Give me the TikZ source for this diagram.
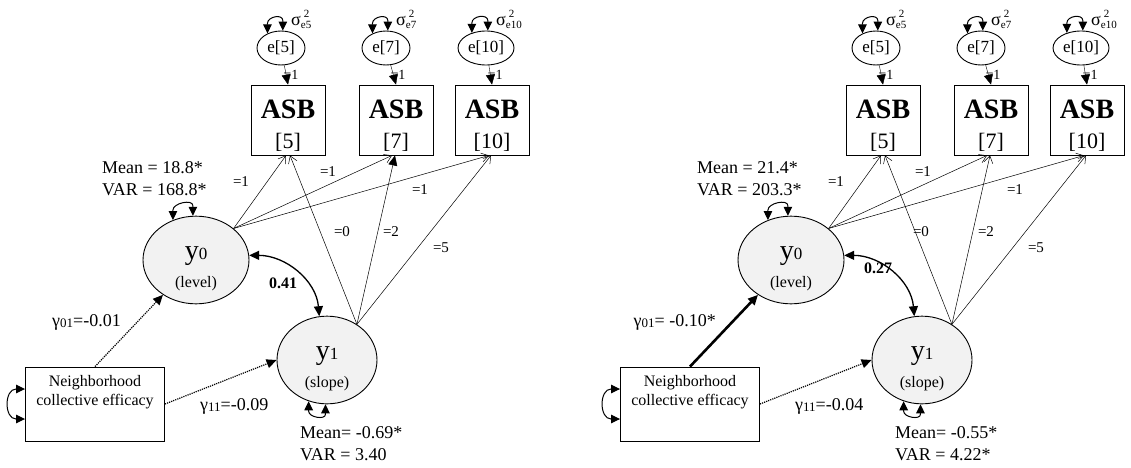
\documentclass[tikz,border=0pt]{standalone}
\usepackage{fontspec}
\setmainfont{Liberation Serif}
\usetikzlibrary{%
  calc,arrows.meta,shapes}
\tikzset {>=Stealth}
\newcommand\fsz[1]{\fontsize{#1}{#1}\selectfont}
\newcommand\gsub[1]{\raisebox{-1.5pt}{\fsz{13}#1}}
\newcommand\sig[1]{\makebox[0pt][l]{\hspace{3pt}\raisebox{8pt}{\fsz{11}2}}\raisebox{-3pt}{\fsz{11}e#1}}
\tikzset{
  latent/.style={draw, ellipse, fill=gray!10, line width=0.9pt, inner sep=0pt,
    minimum width=106pt, minimum height=84pt, align=center,
    font=\fontsize{16}{28}\selectfont, text height=58pt, text depth=4pt},
  errterm/.style={draw, ellipse, line width=0.9pt, inner sep=0pt,
    minimum width=48pt, minimum height=34pt, font=\fsz{17}},
  asb/.style={draw, line width=0.9pt, inner sep=0pt, minimum width=74pt,
    minimum height=70pt, align=center, font=\fontsize{22}{30}\selectfont,
    text height=60pt, text depth=4pt},
  covar/.style={draw, line width=0.9pt, inner sep=0pt, minimum width=139pt,
    minimum height=74pt, align=center, font=\fontsize{16}{19}\selectfont,
    text height=30pt, text depth=28pt},
  load/.style={-{Straight Barb[length=7pt,width=9pt]}, line width=0.5pt},
  tip/.style={-{Triangle[length=10pt,width=9pt]}},
  varloop/.style={{Triangle[length=9pt,width=8.5pt]}-{Triangle[length=9pt,width=8.5pt]},
    line width=1pt},
  lbl/.style={font=\fsz{15}, inner sep=0pt},
  stat/.style={font=\fontsize{18}{22}\selectfont, align=left, inner sep=0pt},
  zerolbl/.style={}, covlbl/.style={}, slopetip/.style={load},
}

% one panel: #1,#2 level mean/var, #3 covariance, #4 gamma01, #5 its line,
% #6 gamma11, #7,#8 slope mean/var
\newcommand\growthpanel[8]{%
  \node[latent] (y0) at (196,207) {{\fsz{28}y}{\fsz{17}0}\\(level)};
  \node[latent, minimum width=100pt] (y1) at (327,107) {{\fsz{28}y}{\fsz{17}1}\\(slope)};
  \node[covar] (nb) at (95,63) {Neighborhood\\collective efficacy};
  \node[errterm] (e5) at (281,419) {e[5]};
  \node[errterm] (e7) at (386,419) {e[7]};
  \node[errterm, minimum width=56pt] (e10) at (486,419) {e[10]};
  \node[asb] (a5) at (288,347) {{\fsz{28}\bfseries ASB}\\{[5]}};
  \node[asb] (a7) at (396,347) {{\fsz{28}\bfseries ASB}\\{[7]}};
  \node[asb] (a10) at (492,347) {{\fsz{28}\bfseries ASB}\\{[10]}};
  \foreach \i in {5,7,10} {
    \draw[varloop] (e\i.133) -- ++(0,10) .. controls +(0,7) and +(0,7)
      .. ([yshift=10pt]e\i.84) -- (e\i.84);
    \node[anchor=base west, inner sep=0pt, font=\fsz{18}] (s\i)
      at ([xshift=10pt,yshift=5pt]e\i.north) {σ\sig{\i}};
    \draw[tip] (e\i) -- (a\i.north)
      node[lbl, font=\fsz{14}, midway, right, xshift=-3pt] {=1};
  }
  % loadings
  \draw[load] (y0.40) -- ([xshift=-2pt]a5.south);
  \draw[load] (y0.40) -- ([xshift=-4pt]a7.south);
  \draw[load] (y0.40) -- ([xshift=-3pt]a10.south);
  \draw[load] (y1.50) -- ([xshift=2pt]a5.south);
  \draw[slopetip] (y1.50) -- ([xshift=-1pt]a7.south);
  \draw[load] (y1.50) -- ([xshift=-1pt]a10.south);
  \node[lbl] (l1) at (241,285) {=1};
  \node[lbl] (l2) at (328,295) {=1};
  \node[lbl] (l3) at (420,277) {=1};
  \node[lbl, zerolbl] (l4) at (342,235) {=0};
  \node[lbl] (l5) at (391,235) {=2};
  \node[lbl] (l6) at (441,219) {=5};
  % variances and means
  \draw[varloop] (y0.120) -- ++(0,10) .. controls +(0,7) and +(0,7)
    .. ([yshift=10pt]y0.94) -- (y0.94);
  \draw[varloop] (y1.246) -- ++(0,-10) .. controls +(0,-6) and +(0,-6)
    .. ([yshift=-10pt]y1.268) -- (y1.268);
  \draw[varloop] ([yshift=15pt]nb.west) -- ++(-9,0) .. controls +(-12,0) and +(-12,0)
    .. ([xshift=-9pt,yshift=-15pt]nb.west) -- ([yshift=-15pt]nb.west);
  \node[stat, anchor=base west] (m0) at (102,272) {Mean = #1\\VAR = #2};
  \node[stat, anchor=base west] (m1) at (300,7) {Mean= #7\\VAR = #8};
  \draw[{Triangle[length=10pt,width=9pt]}-{Triangle[length=10pt,width=9pt]}, line width=1.3pt]
    (y0.5) to[out=0, in=95] (y1.100);
  \node[font=\fsz{16}\bfseries, inner sep=0pt, covlbl] (cv) at (283,184) {#3};
  % predictor
  \draw[tip, #5] (nb.north) -- (y0);
  \draw[tip, densely dotted, line width=1.2pt] (nb.east) -- (y1.west);
  \node[stat, anchor=base east] (g01) at (121,141) {γ\gsub{01}#4};
  \node[stat, anchor=base west] (g11) at (200,57) {γ\gsub{11}=#6};
}

\begin{document}
\begin{tikzpicture}[x=1pt,y=1pt]
\useasboundingbox (0,0) rectangle (1131,467);
\begin{scope}[name prefix=L-, slopetip/.style={tip, line width=0.5pt}]
\growthpanel{18.8*}{168.8*}{0.41}{=-0.01}{densely dotted, line width=1.2pt}{-0.09}{-0.69*}{3.40}
\end{scope}
\begin{scope}[shift={(595,0)}, name prefix=R-, zerolbl/.style={xshift=-16pt},
  covlbl/.style={yshift=15pt}]
\growthpanel{21.4*}{203.3*}{0.27}{= -0.10*}{line width=2.6pt}{-0.04}{-0.55*}{4.22*}
\end{scope}
\end{tikzpicture}
\end{document}
